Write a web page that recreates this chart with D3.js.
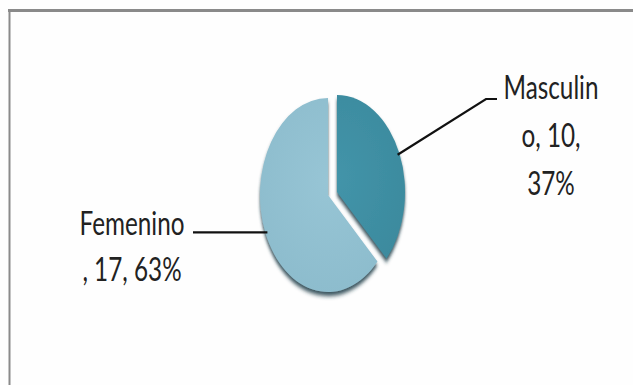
<!DOCTYPE html>
<html>
<head>
<meta charset="utf-8">
<script src="https://cdn.jsdelivr.net/npm/d3@7"></script>
<style>
  html, body { margin: 0; padding: 0; background: #fff; }
  svg { display: block; }
</style>
</head>
<body>
<svg id="chart" width="633" height="385"></svg>
<script>
// Survey respondents by sex
const categories = ["Masculino", "Femenino"];
const counts = [10, 17];
const percents = ["37%", "63%"];
// Label lines as they wrap in the data labels
const labelLines = [
  ["Masculin", "o, 10,", "37%"],
  ["Femenino", ", 17, 63%"]
];

const W = 633, H = 385;
const svg = d3.select("#chart");

// frame: top and left rules of the chart area
svg.append("rect").attr("x", 0).attr("y", 0).attr("width", W).attr("height", H).attr("fill", "#fefefe");
svg.append("line").attr("x1", 8).attr("x2", W).attr("y1", 10.5).attr("y2", 10.5)
  .attr("stroke", "#8a8a8a").attr("stroke-width", 3);
svg.append("line").attr("x1", 9.5).attr("x2", 9.5).attr("y1", 9).attr("y2", H)
  .attr("stroke", "#8a8a8a").attr("stroke-width", 2);

const defs = svg.append("defs");
const shadow = defs.append("filter").attr("id", "bevel")
  .attr("x", "-20%").attr("y", "-20%").attr("width", "140%").attr("height", "140%");
shadow.append("feGaussianBlur").attr("in", "SourceAlpha").attr("stdDeviation", 1.6).attr("result", "b");
shadow.append("feOffset").attr("in", "b").attr("dx", 0).attr("dy", 3).attr("result", "o");
shadow.append("feFlood").attr("flood-color", "#24424d").attr("flood-opacity", 0.9);
shadow.append("feComposite").attr("in2", "o").attr("operator", "in").attr("result", "s");
const merge = shadow.append("feMerge");
merge.append("feMergeNode").attr("in", "s");
merge.append("feMergeNode").attr("in", "SourceGraphic");

const fills = [
  { id: "gMasc", inner: "#4394a9", outer: "#388699" },
  { id: "gFem", inner: "#97c5d5", outer: "#89b9ca" }
];
fills.forEach(f => {
  const g = defs.append("radialGradient").attr("id", f.id)
    .attr("gradientUnits", "userSpaceOnUse").attr("cx", 0).attr("cy", -10).attr("r", 110);
  g.append("stop").attr("offset", "0%").attr("stop-color", f.inner);
  g.append("stop").attr("offset", "100%").attr("stop-color", f.outer);
});

// pie geometry: circle of radius R squeezed into a tall ellipse
const cx = 328, cy = 195, R = 68, sy = 97 / 68;
const explode = [[9, -3], [0, 0]];

const pie = d3.pie().sort(null).value(d => d)(counts);
const arc = d3.arc().innerRadius(0).outerRadius(R);

const toScreen = (i, a, r) => [
  cx + explode[i][0] + r * Math.sin(a),
  cy + explode[i][1] - r * Math.cos(a) * sy
];

pie.forEach((p, i) => {
  svg.append("g")
    .attr("transform", `translate(${cx + explode[i][0]},${cy + explode[i][1]}) scale(1,${sy})`)
    .append("path")
    .attr("d", arc(p))
    .attr("fill", `url(#${fills[i].id})`)
    .attr("filter", "url(#bevel)");
});

// leader lines
const leaders = [
  { elbow: [486, 99], end: [497, 99] },
  { elbow: [193, 235], end: [193, 235] }
];
pie.forEach((p, i) => {
  const mid = (p.startAngle + p.endAngle) / 2;
  const start = toScreen(i, mid, R - 2);
  const pts = [start, [leaders[i].elbow[0], i === 1 ? start[1] : leaders[i].elbow[1]], leaders[i].end];
  if (i === 1) pts[2] = [leaders[i].end[0], start[1]];
  svg.append("path")
    .attr("d", d3.line()(pts))
    .attr("fill", "none").attr("stroke", "#111").attr("stroke-width", 2.2);
});

// data labels, narrow face
const labelPos = [
  { x: 551, y: 99, dy: 48 },
  { x: 132, y: 235, dy: 46 }
];
const fontSize = 33;
const face = "Lato, 'Open Sans', sans-serif";
const probe = svg.append("text").attr("font-family", face)
  .attr("font-size", fontSize).text("Femenino");
const natural = probe.node().getComputedTextLength();
probe.remove();
const sx = 105 / natural;

labelLines.forEach((lines, i) => {
  const g = svg.append("g")
    .attr("transform", `translate(${labelPos[i].x},${labelPos[i].y}) scale(${sx},1)`);
  lines.forEach((t, k) => {
    g.append("text")
      .attr("x", 0).attr("y", k * labelPos[i].dy)
      .attr("text-anchor", "middle")
      .attr("font-family", face)
      .attr("font-size", fontSize)
      .attr("fill", "#222")
      .text(t);
  });
});
</script>
</body>
</html>
